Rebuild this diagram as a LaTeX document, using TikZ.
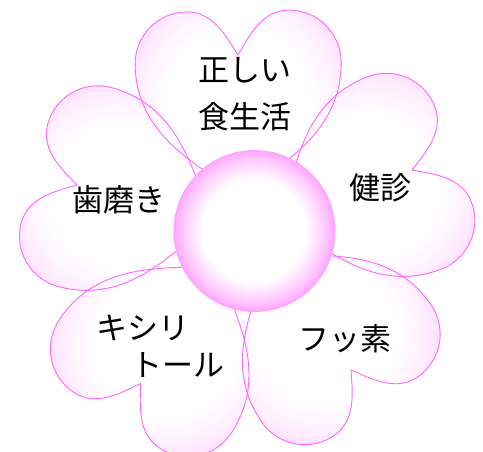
\documentclass[tikz,border=0pt]{standalone}
\usepackage{fontspec}
\newfontfamily\jp{Noto Sans CJK JP}
\definecolor{petalline}{HTML}{FF66FF}
\definecolor{petalpink}{HTML}{FFDAFF}
\definecolor{corepink}{HTML}{FFA4FF}
\newcommand\heartpath{(0,0) .. controls (40,30) and (103,60) .. (103,132) .. controls (103,160.7) and (79.7,184) .. (51,184) .. controls (25,184) and (12,160) .. (0,140) .. controls (-12,160) and (-25,184) .. (-51,184) .. controls (-79.7,184) and (-103,160.7) .. (-103,132) .. controls (-103,60) and (-40,30) .. (0,0) -- cycle}
% petal fill: tip, angle
\newcommand\petalfillat[2]{%
  \begin{scope}[shift={(#1)},rotate=#2-90]
    \clip \heartpath;
    \fill[petalpink] (0,95) circle (130);
    \foreach \k in {1,...,20}{%
      \pgfmathsetmacro\r{118-2.4*\k}%
      \pgfmathsetmacro\p{100*(\k/20)^0.55}%
      \fill[white!\p!petalpink] (0,95) circle (\r);
    }
  \end{scope}}
\newcommand\petaledgeat[2]{%
  \begin{scope}[shift={(#1)},rotate=#2-90]
    \path[petaledge] \heartpath;
  \end{scope}}
\tikzset{
  petaledge/.style={draw=petalline,line width=0.9pt},
  lbl/.style={font=\jp\fontsize{31}{47}\selectfont,inner sep=0pt,text=black}
}
\begin{document}
\begin{tikzpicture}[x=1pt,y=1pt]
\useasboundingbox (0,0) rectangle (483,-452);
% fills
\petalfillat{240.4,-195}{91}
\petalfillat{281.3,-220.2}{21}
\petalfillat{270.7,-255.3}{-55}
\petalfillat{217,-266}{-123}
\petalfillat{212.2,-221.2}{165}
% outlines
\petaledgeat{240.4,-195}{91}
\petaledgeat{281.3,-220.2}{21}
\petaledgeat{270.7,-255.3}{-55}
\petaledgeat{217,-266}{-123}
\petaledgeat{212.2,-221.2}{165}
% core
\coordinate (c) at (254.5,-231);
\foreach \k in {0,...,16}{%
  \pgfmathsetmacro\r{81-1.8*\k}%
  \pgfmathsetmacro\p{100*(\k/16)^0.8}%
  \fill[white!\p!corepink] (c) circle (\r);
}
\node[circle,minimum size=162pt,inner sep=0pt] (core) at (c) {};
% labels
\node[lbl,align=center] (t1) at (245,-94.5) {正しい\\食生活};
\node[lbl] (t2) at (380,-188) {健診};
\node[lbl] (t3) at (119,-200) {歯磨き};
\node[lbl] (t4) at (143,-328) {キシリ};
\node[lbl] (t5) at (178,-365) {トール};
\node[lbl] (t6) at (345,-339) {フッ素};
\end{tikzpicture}
\end{document}
